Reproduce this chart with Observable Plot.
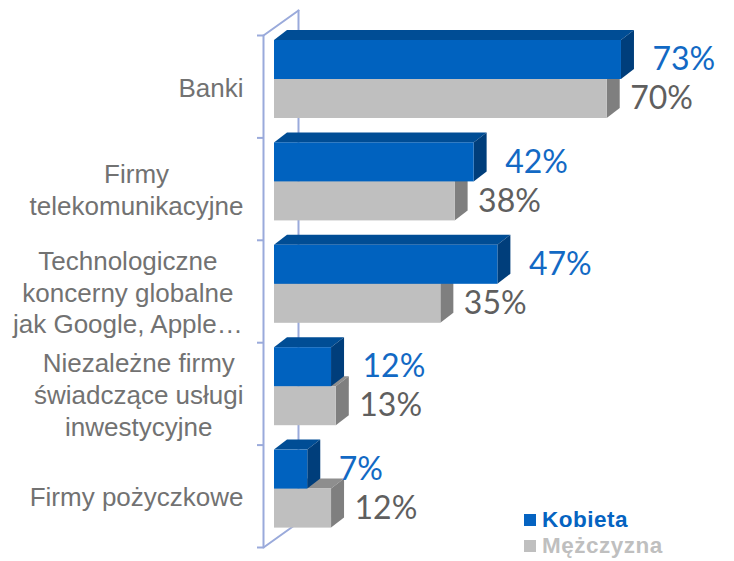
<!DOCTYPE html>
<html>
<head>
<meta charset="utf-8">
<script src="https://cdn.jsdelivr.net/npm/d3@7"></script>
<script src="https://cdn.jsdelivr.net/npm/@observablehq/plot@0.6"></script>
<style>
  html, body { margin: 0; padding: 0; background: #fff; }
  #wrap { position: relative; width: 734px; height: 561px; }
  #legend { position: absolute; left: 524px; top: 507px; font-family: "Liberation Sans", Arial, sans-serif; font-weight: bold; font-size: 22.5px; line-height: 26px; letter-spacing: 0.5px; }
  #legend .item { display: flex; align-items: center; white-space: nowrap; }
  #legend .sw { width: 12px; height: 12px; margin-right: 6px; display: inline-block; }
</style>
</head>
<body>
<div id="wrap"><div id="legend"></div></div>
<script>
// ---- data ----
const categories = [
  "Banki",
  "Firmy\ntelekomunikacyjne",
  "Technologiczne\nkoncerny globalne\njak Google, Apple…",
  "Niezależne firmy\nświadczące usługi\ninwestycyjne",
  "Firmy pożyczkowe"
];
const kobieta = [73, 42, 47, 12, 7];
const mezczyzna = [70, 38, 35, 13, 12];
const seriesNames = ["Kobieta", "Mężczyzna"];

// ---- layout constants (pixels) ----
const X0 = 274, PX_PER_PCT = 4.753;
const Y0 = 35, BAND = 102.4;
const xu = px => px / PX_PER_PCT;
const yu = px => px / BAND;
const DX = 13, DY = 10;

const colors = {
  Kobieta: {front: "#0062BF", top: "#004D95", side: "#003E7B", label: "#1269C4"},
  "Mężczyzna": {front: "#BFBFBF", top: "#8E8E8E", side: "#7F7F7F", label: "#5F5F5F"}
};

const bars = [];
categories.forEach((c, i) => {
  bars.push({cat: c, s: seriesNames[1], v: mezczyzna[i], t: i + yu(44), b: i + yu(83)});
  bars.push({cat: c, s: seriesNames[0], v: kobieta[i], t: i + yu(5), b: i + yu(44)});
});

function tops(list) {
  return list.flatMap((d, k) => [
    {id: k, y: d.t, x1: 0, x2: d.v},
    {id: k, y: d.t - yu(DY), x1: xu(DX), x2: d.v + xu(DX)}
  ]);
}
function sides(list) {
  return list.flatMap((d, k) => [
    {id: k, x: d.v, y1: d.t, y2: d.b},
    {id: k, x: d.v + xu(DX), y1: d.t - yu(DY), y2: d.b - yu(DY)}
  ]);
}

function faceMarks(name) {
  const list = bars.filter(d => d.s === name);
  const col = colors[name];
  return [
    Plot.areaX(tops(list), {y: "y", x1: "x1", x2: "x2", z: "id", fill: col.top}),
    Plot.areaY(sides(list), {x: "x", y1: "y1", y2: "y2", z: "id", fill: col.side}),
    Plot.rect(list, {x1: 0, x2: "v", y1: "t", y2: "b", fill: col.front})
  ];
}

// category label placement: block of centered lines whose widest line ends near x=243px
const CAT_FONT = 26;
const ctx = document.createElement("canvas").getContext("2d");
ctx.font = CAT_FONT + "px 'Liberation Sans'";
const catLabels = categories.map((c, i) => {
  const w = d3.max(c.split("\n"), l => ctx.measureText(l).width);
  return {text: c, x: xu(243 - w / 2 - X0), y: i + 0.5};
});

// axis wall
const wallColor = "#9AAADB";
const fx = xu(-11), bx = xu(24), by = yu(-25);
const wall = [{x: fx, y: 0}, {x: fx, y: 5}];
const ticks = d3.range(0, 6).map(i => ({y: i}));

const chart = Plot.plot({
  width: 734,
  height: 561,
  margin: 0,
  x: {domain: [0, 100], range: [X0, X0 + 100 * PX_PER_PCT], axis: null},
  y: {domain: [0, 5], range: [Y0, Y0 + 5 * BAND], axis: null},
  style: {background: "white", overflow: "visible"},
  marks: [
    Plot.line([{x: bx, y: by}, {x: bx, y: 5 + by}], {x: "x", y: "y", stroke: wallColor, strokeWidth: 2}),
    Plot.line([{x: fx, y: 0}, {x: bx, y: by}], {x: "x", y: "y", stroke: wallColor, strokeWidth: 2}),
    Plot.line([{x: fx, y: 5}, {x: bx, y: 5 + by}], {x: "x", y: "y", stroke: wallColor, strokeWidth: 2}),
    Plot.line(wall, {x: "x", y: "y", stroke: wallColor, strokeWidth: 2}),
    Plot.ruleY(ticks, {y: "y", x1: xu(-17), x2: fx, stroke: wallColor, strokeWidth: 2}),
    ...faceMarks(seriesNames[1]),
    ...faceMarks(seriesNames[0]),
    Plot.text(bars.filter(d => d.s === seriesNames[0]), {
      x: "v", y: d => (d.t + d.b) / 2, text: d => d.v + "%", dx: 31, textAnchor: "start",
      fill: colors.Kobieta.label, fontSize: 32, fontFamily: "Lato, 'Open Sans', sans-serif"
    }),
    Plot.text(bars.filter(d => d.s === seriesNames[1]), {
      x: "v", y: d => (d.t + d.b) / 2, text: d => d.v + "%", dx: 23, textAnchor: "start",
      fill: colors["Mężczyzna"].label, fontSize: 32, fontFamily: "Lato, 'Open Sans', sans-serif"
    }),
    Plot.text(catLabels, {
      x: "x", y: "y", text: "text", textAnchor: "middle", lineAnchor: "middle", lineHeight: 1.22,
      fill: "#727272", fontSize: CAT_FONT, fontFamily: "'Liberation Sans', Arial, sans-serif"
    })
  ]
});
const wrap = document.getElementById("wrap");
wrap.insertBefore(chart, wrap.firstChild);

const legend = document.getElementById("legend");
seriesNames.forEach(n => {
  const item = document.createElement("div");
  item.className = "item";
  item.style.color = n === "Kobieta" ? "#0563C1" : "#BFBFBF";
  const sw = document.createElement("span");
  sw.className = "sw";
  sw.style.background = n === "Kobieta" ? "#0563C1" : "#BFBFBF";
  item.appendChild(sw);
  item.appendChild(document.createTextNode(n));
  legend.appendChild(item);
});
</script>
</body>
</html>
